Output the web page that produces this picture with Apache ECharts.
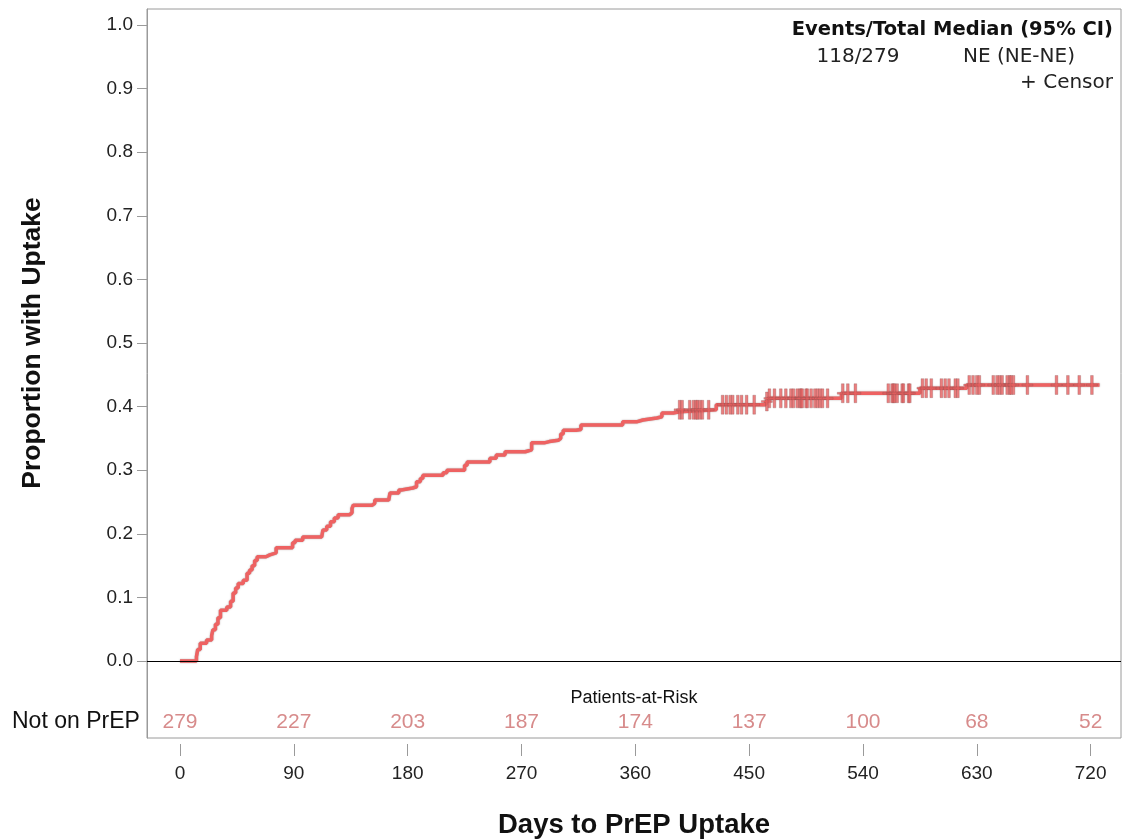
<!DOCTYPE html>
<html><head><meta charset="utf-8">
<script src="https://cdn.jsdelivr.net/npm/echarts@6/dist/echarts.min.js"></script>
<style>html,body{margin:0;padding:0;background:#fff}#c{width:1122px;height:840px}</style>
</head><body><div id="c"></div>
<script>
// Cumulative incidence step function (day of event, proportion after the step)
const eventDays = [0,13,14,16,21,25,26,28,30,32,37,40,42,44,46,50,53,55,57,59,61,68,71,76,89,91,97,112,113,116,119,122,125,134,136,137,152,154,165,166,173,175,184,187,190,192,208,211,225,227,245,250,257,273,278,288,292,299,301,303,313,317,350,361,366,377,381,390,395,424,463,465,523,585,622,727];
const cumInc = [0,0.007,0.018,0.028,0.033,0.040,0.049,0.058,0.068,0.080,0.085,0.094,0.107,0.115,0.122,0.127,0.138,0.143,0.150,0.158,0.164,0.167,0.170,0.178,0.186,0.190,0.195,0.198,0.206,0.212,0.219,0.225,0.230,0.233,0.240,0.245,0.248,0.253,0.256,0.264,0.269,0.272,0.274,0.282,0.287,0.292,0.296,0.300,0.308,0.313,0.319,0.324,0.329,0.332,0.343,0.345,0.347,0.350,0.357,0.363,0.364,0.371,0.376,0.379,0.382,0.384,0.390,0.392,0.395,0.403,0.408,0.413,0.421,0.429,0.434,0.434];
// Censoring times
const censorDays = [395,397,403,406,408,409,411,413,418,429,432,435,437,441,444,448,454,464,466,470,475,479,483,485,488,490,491,492,495,496,499,502,504,506,508,512,524,528,534,560,563,564,565,567,571,572,576,577,587,590,594,602,605,608,613,615,624,627,630,632,643,646,648,650,654,656,657,659,670,693,702,711,721];
// Patients at risk
const riskDays = [0,90,180,270,360,450,540,630,720];
const riskCounts = [279,227,203,187,174,137,100,68,52];
const xTicks = [0,90,180,270,360,450,540,630,720];
const yTicks = [0,0.1,0.2,0.3,0.4,0.5,0.6,0.7,0.8,0.9,1.0];

function valueAt(d){let v=0;for(let i=0;i<eventDays.length;i++){if(eventDays[i]<=d)v=cumInc[i];}return v;}
const curve = eventDays.map((d,i)=>[d,cumInc[i]]);
const censors = censorDays.map(d=>[d,valueAt(d)]);
const riskPts = riskDays.map((d,i)=>({value:[d,-0.096],label:{formatter:String(riskCounts[i])}}));

const RED='#ee6262';
const SANS="'Liberation Sans',Arial,sans-serif";
const DV="'DejaVu Sans',sans-serif";
const plus='path://M-0.25,-1H0.25V-0.1H1V0.1H0.25V1H-0.25V0.1H-1V-0.1H-0.25Z';

const chart=echarts.init(document.getElementById('c'),null,{renderer:'canvas'});
chart.setOption({
  animation:false,
  grid:{left:147,top:9,right:1,bottom:102,show:true,borderColor:'#9a9a9a',borderWidth:1,backgroundColor:'transparent'},
  xAxis:{type:'value',min:-26.1,max:744,offset:6,
    axisLine:{show:false,onZero:false},splitLine:{show:false},
    axisTick:{show:true,length:12,lineStyle:{color:'#9a9a9a'},customValues:xTicks},
    axisLabel:{margin:20,fontFamily:SANS,fontSize:19,color:'#222',customValues:xTicks,formatter:v=>String(v)}},
  yAxis:{type:'value',min:-0.121,max:1.0251,
    axisLine:{show:true,onZero:false,lineStyle:{color:'#9a9a9a'}},splitLine:{show:false},
    axisTick:{show:true,length:10,lineStyle:{color:'#9a9a9a'},customValues:yTicks},
    axisLabel:{margin:14,fontFamily:SANS,fontSize:19,color:'#222',customValues:yTicks,formatter:v=>v.toFixed(1)}},
  series:[
    {type:'line',data:curve,step:'end',showSymbol:false,symbol:'none',z:3,
      lineStyle:{color:RED,width:3.5,shadowColor:'rgba(90,60,60,0.55)',shadowBlur:1.5},
      markLine:{silent:true,symbol:'none',label:{show:false},lineStyle:{color:'#000',width:1,type:'solid'},
        data:[[{coord:[-26.1,0]},{coord:[744,0]}]]}},
    {type:'scatter',data:censors,symbol:plus,symbolSize:[11,19],z:4,
      itemStyle:{color:'#e65f5f',borderColor:'rgba(130,80,80,0.7)',borderWidth:0.5}},
    {type:'scatter',data:riskPts,symbolSize:0,z:5,
      label:{show:true,position:'inside',fontFamily:SANS,fontSize:21,color:'#cd6e6e'}}
  ],
  graphic:[
    {type:'text',x:12,y:722,style:{text:'Not on PrEP',font:'23px '+SANS,fill:'#111',align:'left',verticalAlign:'middle'}},
    {type:'text',x:634,y:698,style:{text:'Patients-at-Risk',font:'18px '+SANS,fill:'#111',align:'center',verticalAlign:'middle'}},
    {type:'text',x:634,y:825,style:{text:'Days to PrEP Uptake',font:'bold 27.5px '+SANS,fill:'#111',align:'center',verticalAlign:'middle'}},
    {type:'text',x:33,y:343,rotation:Math.PI/2,style:{text:'Proportion with Uptake',font:'bold 26.5px '+SANS,fill:'#111',align:'center',verticalAlign:'middle'}},
    {type:'text',x:1113,y:30,style:{text:'Events/Total Median (95% CI)',font:'bold 19.5px '+DV,fill:'#111',align:'right',verticalAlign:'middle'}},
    {type:'text',x:858,y:57,style:{text:'118/279',font:'20px '+DV,fill:'#222',align:'center',verticalAlign:'middle'}},
    {type:'text',x:1019,y:57,style:{text:'NE (NE-NE)',font:'20px '+DV,fill:'#222',align:'center',verticalAlign:'middle'}},
    {type:'text',x:1113,y:83,style:{text:'+ Censor',font:'20px '+DV,fill:'#222',align:'right',verticalAlign:'middle'}}
  ]
});
</script></body></html>
